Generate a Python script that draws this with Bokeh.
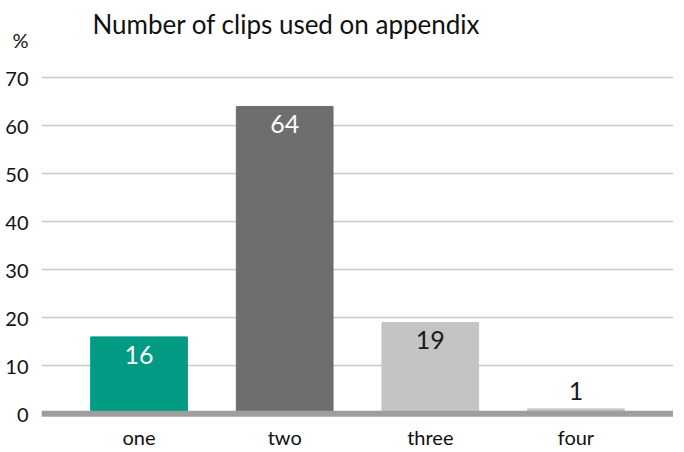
from bokeh.plotting import figure
from bokeh.models import ColumnDataSource, FactorRange, Range1d, FixedTicker, Span, Label
from bokeh.embed import file_html
from bokeh.resources import INLINE
from bokeh.core.properties import value

categories = ["one", "two", "three", "four"]
percent = [16, 64, 19, 1]
bar_colors = ["#009B82", "#6E6E6E", "#C4C4C4", "#C4C4C4"]
label_colors = ["#FFFFFF", "#FFFFFF", "#1A1A1A", "#1A1A1A"]
y_ticks = [0, 10, 20, 30, 40, 50, 60, 70]
title_text = "Number of clips used on appendix"
unit_text = "%"

FONT = "Lato"
UNIT_POS = 77.9      # vertical position of the unit label (axis units)
TITLE_POS = 81.2     # vertical position of the title (axis units)

inside = [v >= 5 for v in percent]
src_in = ColumnDataSource(dict(
    x=[c for c, f in zip(categories, inside) if f],
    y=[v for v, f in zip(percent, inside) if f],
    t=[str(v) for v, f in zip(percent, inside) if f],
    c=[c for c, f in zip(label_colors, inside) if f],
))
src_out = ColumnDataSource(dict(
    x=[c for c, f in zip(categories, inside) if not f],
    y=[v for v, f in zip(percent, inside) if not f],
    t=[str(v) for v, f in zip(percent, inside) if not f],
    c=[c for c, f in zip(label_colors, inside) if not f],
))
src = ColumnDataSource(dict(x=categories, top=percent, color=bar_colors))

p = figure(
    frame_width=632, frame_height=410,
    x_range=FactorRange(*categories, range_padding=0.17, range_padding_units="absolute"),
    y_range=Range1d(-1, 84.4),
    output_backend="svg", toolbar_location=None,
    min_border_left=41, min_border_right=0, min_border_top=8, min_border_bottom=0,
)

p.vbar(x="x", top="top", bottom=0, width=0.664, color="color", source=src)

p.add_layout(Span(location=0, dimension="width", line_color="#9E9E9E", line_width=6))

p.text(x="x", y="y", text="t", text_color="c", source=src_in,
       text_align="center", text_baseline="top", y_offset=9,
       text_font=value(FONT), text_font_size="25px")
p.text(x="x", y="y", text="t", text_color="c", source=src_out,
       text_align="center", text_baseline="bottom", y_offset=-9,
       text_font=value(FONT), text_font_size="25px")

p.add_layout(Label(x=51, x_units="screen", y=TITLE_POS, text=title_text,
                   text_font=FONT, text_font_size="26px", text_color="#111111",
                   text_baseline="middle", text_align="left"))

p.outline_line_color = None
p.xgrid.grid_line_color = None
p.ygrid.grid_line_color = "#C8C8C8"
p.ygrid.grid_line_width = 1.5
p.ygrid.ticker = FixedTicker(ticks=y_ticks)
p.yaxis.ticker = FixedTicker(ticks=y_ticks + [UNIT_POS])
p.yaxis.major_label_overrides = {UNIT_POS: unit_text}
for ax in (p.xaxis, p.yaxis):
    ax.axis_line_color = None
    ax.major_tick_line_color = None
    ax.minor_tick_line_color = None
    ax.major_label_text_font = FONT
    ax.major_label_text_font_size = "20px"
    ax.major_label_text_color = "#111111"
p.yaxis.major_label_standoff = 7
p.xaxis.major_label_standoff = 0

open("out.html", "w").write(file_html(p, INLINE))
